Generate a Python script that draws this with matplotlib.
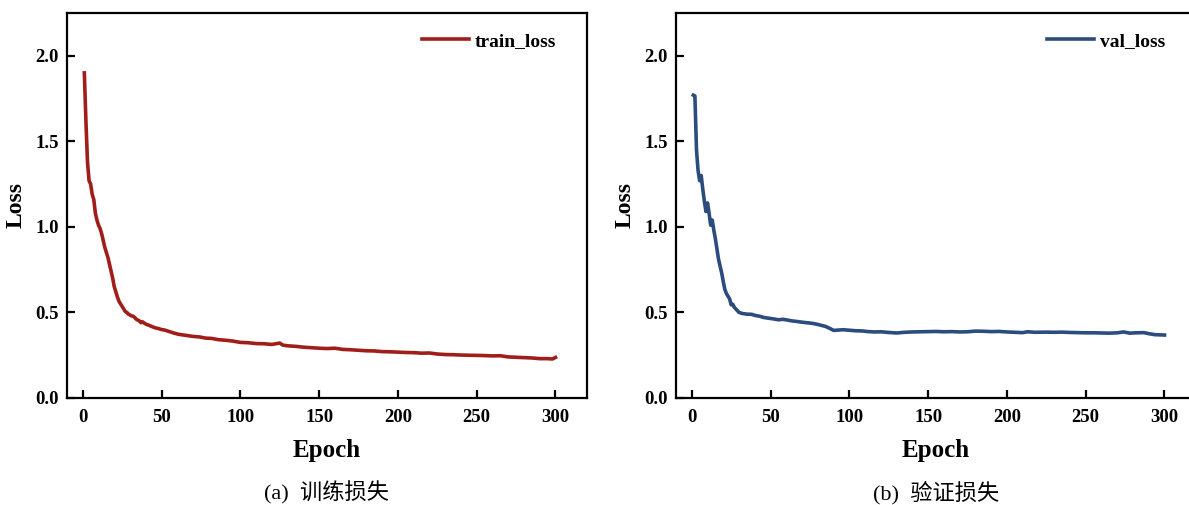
import numpy as np
import matplotlib
matplotlib.use("Agg")
import matplotlib.pyplot as plt

# training loss
train_epoch = list(range(1, 41)) + [42, 44, 46, 48, 50, 52, 55, 58, 61, 64, 67, 70, 74, 78,
                                    82, 86, 90, 95, 100, 105, 110, 115, 120, 125, 127, 130,
                                    135, 140, 145, 150, 155, 160, 165, 170, 175, 180, 185,
                                    190, 195, 200, 205, 210, 215, 220, 225, 230, 235, 240,
                                    245, 250, 255, 260, 265, 270, 275, 280, 285, 290, 295,
                                    298, 300]
train_loss = [1.90, 1.62, 1.38, 1.27, 1.25, 1.19, 1.16, 1.08, 1.04, 1.01,
              0.99, 0.96, 0.92, 0.88, 0.85, 0.82, 0.78, 0.74, 0.70, 0.65,
              0.62, 0.59, 0.565, 0.55, 0.535, 0.52, 0.505, 0.50, 0.49, 0.485,
              0.48, 0.478, 0.47, 0.46, 0.455, 0.45, 0.44, 0.445, 0.438, 0.432,
              0.425, 0.417, 0.41, 0.406, 0.40, 0.397, 0.388, 0.379, 0.372, 0.368,
              0.364, 0.36, 0.357, 0.35, 0.348, 0.341, 0.338, 0.333, 0.325, 0.323,
              0.318, 0.317, 0.313, 0.321, 0.309, 0.305, 0.302, 0.297, 0.294, 0.291,
              0.289, 0.291, 0.284, 0.282, 0.279, 0.276, 0.275, 0.271, 0.270, 0.268,
              0.266, 0.265, 0.262, 0.263, 0.257, 0.254, 0.253, 0.251, 0.250, 0.249,
              0.248, 0.246, 0.247, 0.240, 0.238, 0.236, 0.234, 0.230, 0.230, 0.228,
              0.237]

# validation loss
val_epoch = list(range(1, 31)) + [32, 35, 38, 40, 43, 46, 49, 52, 55, 58, 61, 64, 67, 70,
                                  73, 76, 79, 82, 85, 88, 90, 93, 96, 100, 104, 108, 112,
                                  116, 120, 125, 130, 135, 140, 145, 150, 155, 160, 165,
                                  170, 175, 180, 185, 190, 195, 200, 205, 210, 213, 218,
                                  225, 230, 235, 240, 245, 250, 255, 260, 265, 270, 274,
                                  278, 282, 287, 290, 294, 297, 300]
val_loss = [1.77, 1.765, 1.45, 1.33, 1.27, 1.30, 1.22, 1.15, 1.09, 1.14,
            1.08, 1.01, 1.04, 0.98, 0.93, 0.87, 0.81, 0.77, 0.73, 0.68,
            0.635, 0.61, 0.595, 0.58, 0.545, 0.548, 0.53, 0.52, 0.51, 0.50,
            0.494, 0.49, 0.489, 0.483, 0.478, 0.47, 0.466, 0.462, 0.457, 0.46,
            0.455, 0.45, 0.447, 0.443, 0.44, 0.437, 0.432, 0.425, 0.418, 0.405,
            0.395, 0.397, 0.399, 0.396, 0.393, 0.392, 0.388, 0.386, 0.387, 0.383,
            0.380, 0.384, 0.386, 0.387, 0.388, 0.389, 0.387, 0.388, 0.386, 0.387,
            0.391, 0.390, 0.388, 0.389, 0.386, 0.384, 0.382, 0.387, 0.384, 0.385,
            0.384, 0.385, 0.383, 0.382, 0.381, 0.381, 0.380, 0.379, 0.381, 0.386,
            0.379, 0.381, 0.382, 0.376, 0.370, 0.369, 0.368]

x_ticks = [0, 50, 100, 150, 200, 250, 300]
y_ticks = [0.0, 0.5, 1.0, 1.5, 2.0]
captions = ["(a)  训练损失", "(b)  验证损失"]

plt.rcParams['font.family'] = ['Liberation Serif', 'Noto Sans CJK SC']
plt.rcParams['font.weight'] = 'bold'

fig = plt.figure(figsize=(11.89, 5.05), dpi=100)
ax1 = fig.add_axes([67 / 1189, 1 - 398 / 505, 520 / 1189, 385 / 505])
ax2 = fig.add_axes([676 / 1189, 1 - 398 / 505, 520 / 1189, 385 / 505])

series = [(ax1, train_epoch, train_loss, "#A01E1A", "train_loss"),
          (ax2, val_epoch, val_loss, "#2B4C7C", "val_loss")]

for i, (ax, xs, ys, color, name) in enumerate(series):
    ax.plot(xs, ys, color=color, lw=2.6, label=name)
    ax.set_xlim(-10, 320)
    ax.set_ylim(0, 2.25)
    ax.set_xticks(x_ticks)
    ax.set_yticks(y_ticks)
    ax.set_yticklabels([f"{v:.1f}" for v in y_ticks])
    ax.tick_params(direction='in', length=6, width=1.6, labelsize=13.5, pad=6)
    ax.tick_params(axis='x', pad=8)
    for s in ax.spines.values():
        s.set_linewidth(1.6)
    ax.set_xlabel("Epoch", fontsize=18, fontweight='bold', labelpad=9)
    ax.set_ylabel("Loss", fontsize=17, fontweight='bold', labelpad=6)
    ax.legend(loc='upper right', bbox_to_anchor=(0.94, 0.95), frameon=False,
              borderpad=0, borderaxespad=0, handlelength=2.4, handletextpad=0.3,
              prop={'size': 14, 'weight': 'bold'})
    ax.text(0.5, -0.245, captions[i], transform=ax.transAxes, ha='center', va='center',
            fontsize=16, fontweight='normal')

fig.savefig("out.png", dpi=100)
